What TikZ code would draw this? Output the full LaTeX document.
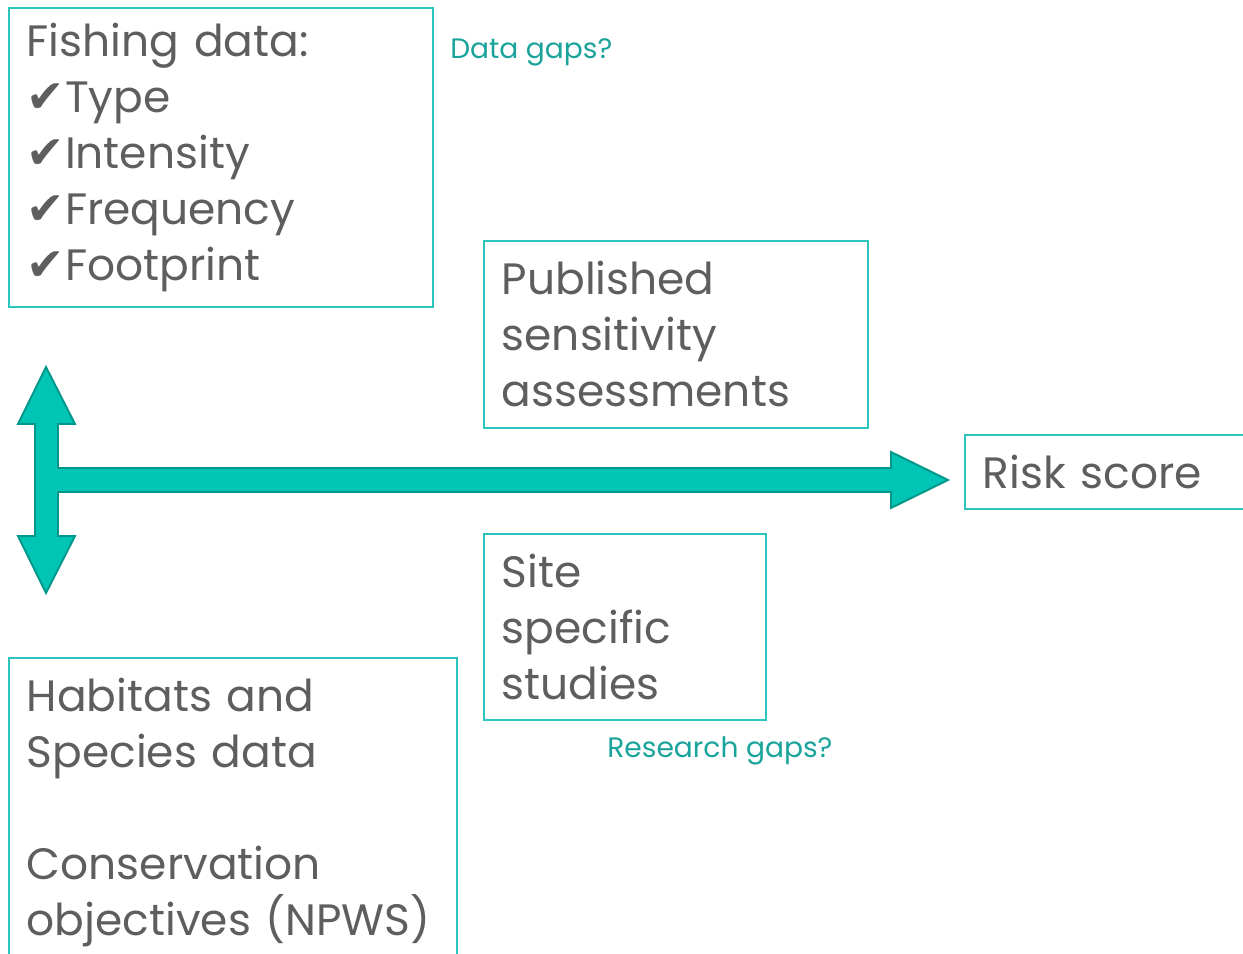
\documentclass[tikz,border=0pt]{standalone}
\usepackage{fontspec}
\setmainfont{Poppins}
\newfontfamily\symfont{DejaVu Sans}
\usetikzlibrary{positioning}
\definecolor{txt}{HTML}{5E5E5E}
\definecolor{edge}{HTML}{2EC4BE}
\definecolor{flow}{HTML}{00C4B4}
\definecolor{flowdk}{HTML}{00968A}
\definecolor{gaptxt}{HTML}{1AA39A}
\newcommand{\tick}{{\symfont\fontsize{26}{26}\selectfont ✔}}

\begin{document}
\begin{tikzpicture}[x=0.02cm,y=-0.02cm,
  box/.style={draw=edge,line width=0.9pt,anchor=north west,align=left,text=txt,
    inner xsep=0.36cm,inner ysep=0pt,font=\fontsize{25}{31.9}\selectfont},
  gap/.style={text=gaptxt,anchor=west,inner sep=0pt,font=\fontsize{16}{19}\selectfont},
  bigarrow/.style={fill=flow,draw=flowdk,line width=1.1pt,line join=miter}]
\useasboundingbox (0,0) rectangle (1243,953);
\node[box,text width=7.76cm,minimum height=5.98cm] (fish) at (8,7)
  {Fishing data:\\\tick Type\\\tick Intensity\\\tick Frequency\\\tick Footprint};
\node[box,text width=6.96cm,minimum height=3.74cm] (pub) at (483,240)
  {Published\\sensitivity\\assessments};
\node[box,text width=4.92cm,minimum height=3.72cm] (site) at (483,533)
  {Site\\specific\\studies};
\node[box,text width=8.24cm,minimum height=6.2cm] (hab) at (8,657)
  {Habitats and\\Species data\\[1.12cm]Conservation\\objectives~(NPWS)};
\node[box,anchor=west,text width=6cm,minimum height=1.48cm] (risk) at (964,472)
  {Risk score};
\node[gap] (dgap) at (450,52) {Data gaps?};
\node[gap] (rgap) at (607,751) {Research gaps?};
\draw[bigarrow] (46,367) -- (75,424) -- (58,424) -- (58,468) -- (891,468)
  -- (891,452) -- (948,480) -- (891,508) -- (891,492) -- (58,492) -- (58,536)
  -- (75,536) -- (46,593) -- (18,536) -- (35,536) -- (35,424) -- (18,424) -- cycle;
\end{tikzpicture}
\end{document}
